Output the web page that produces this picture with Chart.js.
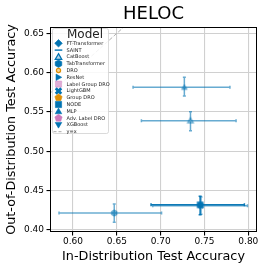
<!DOCTYPE html>
<html>
<head>
<meta charset="utf-8">
<script src="https://cdn.jsdelivr.net/npm/chart.js@4.4.0/dist/chart.umd.min.js"></script>
<style>
  html, body { margin: 0; padding: 0; background: #fff; }
</style>
</head>
<body>
<canvas id="chart" width="266" height="270"></canvas>
<script>
// Data
const legendModels = ["FT-Transformer", "SAINT", "CatBoost", "TabTransformer", "DRO", "ResNet",
  "Label Group DRO", "LightGBM", "Group DRO", "NODE", "MLP", "Adv. Label DRO", "XGBoost"];

const models  = ["TabTransformer", "CatBoost", "MLP", "LightGBM", "NODE"];
const idAcc   = [0.647, 0.734, 0.727, 0.746, 0.745];
const idLow   = [0.584, 0.678, 0.6685, 0.691, 0.689];
const idHigh  = [0.701, 0.786, 0.779, 0.799, 0.7955];
const oodAcc  = [0.4216, 0.539, 0.5814, 0.431, 0.432];
const oodLow  = [0.4098, 0.5262, 0.5703, 0.420, 0.4195];
const oodHigh = [0.433, 0.5504, 0.594, 0.442, 0.443];

const xTicks = [0.60, 0.65, 0.70, 0.75, 0.80];
const yTicks = [0.40, 0.45, 0.50, 0.55, 0.60, 0.65];
const diagonal = [0.3, 0.9];

// Styles
const BLUE = "1,115,178", ORANGE = "222,143,5", PINK = "204,120,188";
const markerOf = {
  "FT-Transformer": "diamond", "SAINT": "hline", "CatBoost": "triOpen", "TabTransformer": "hexagon",
  "DRO": "ring", "ResNet": "triRight", "Label Group DRO": "square", "LightGBM": "xfill",
  "Group DRO": "pentagon", "NODE": "square", "MLP": "triangle", "Adv. Label DRO": "pentagon",
  "XGBoost": "triDown"
};
const colorOf = name => {
  if (name === "DRO" || name === "Group DRO") return ORANGE;
  if (name === "Label Group DRO" || name === "Adv. Label DRO") return PINK;
  return BLUE;
};
const alphaOf = { "TabTransformer": 0.58, "CatBoost": 0.6, "MLP": 0.6, "LightGBM": 0.6, "NODE": 0.95 };

function poly(ctx, x, y, r, n, start) {
  for (let i = 0; i < n; i++) {
    const a = start + i * 2 * Math.PI / n;
    const px = x + r * Math.cos(a), py = y + r * Math.sin(a);
    if (i === 0) ctx.moveTo(px, py); else ctx.lineTo(px, py);
  }
  ctx.closePath();
}

function drawMarker(ctx, kind, x, y, r, rgb, alpha) {
  const col = `rgba(${rgb},${alpha})`;
  ctx.save();
  ctx.fillStyle = col;
  ctx.strokeStyle = col;
  ctx.lineWidth = 0.6;
  ctx.beginPath();
  if (kind === "hline") {
    ctx.lineWidth = 1.4;
    ctx.moveTo(x - r, y); ctx.lineTo(x + r, y);
    ctx.stroke(); ctx.restore(); return;
  }
  if (kind === "xfill") {
    ctx.lineWidth = r * 0.75;
    const d = r * 0.72;
    ctx.moveTo(x - d, y - d); ctx.lineTo(x + d, y + d);
    ctx.moveTo(x + d, y - d); ctx.lineTo(x - d, y + d);
    ctx.stroke(); ctx.restore(); return;
  }
  if (kind === "ring") {
    ctx.arc(x, y, r * 0.55, 0, 2 * Math.PI);
    ctx.fillStyle = `rgba(${rgb},${alpha * 0.4})`;
    ctx.fill();
    ctx.lineWidth = 1.2; ctx.stroke(); ctx.restore(); return;
  }
  if (kind === "triOpen") {
    poly(ctx, x, y + r * 0.15, r, 3, -Math.PI / 2);
    ctx.fillStyle = `rgba(${rgb},${alpha * 0.3})`;
    ctx.fill();
    ctx.lineWidth = 1.2; ctx.stroke(); ctx.restore(); return;
  }
  if (kind === "diamond") poly(ctx, x, y, r, 4, -Math.PI / 2);
  else if (kind === "square") ctx.rect(x - r * 0.82, y - r * 0.82, r * 1.64, r * 1.64);
  else if (kind === "triangle") poly(ctx, x, y + r * 0.15, r, 3, -Math.PI / 2);
  else if (kind === "triRight") poly(ctx, x - r * 0.15, y, r, 3, 0);
  else if (kind === "triDown") poly(ctx, x, y - r * 0.15, r, 3, Math.PI / 2);
  else if (kind === "hexagon") poly(ctx, x, y, r, 6, -Math.PI / 2);
  else if (kind === "pentagon") poly(ctx, x, y, r, 5, -Math.PI / 2);
  ctx.fill();
  ctx.stroke();
  ctx.restore();
}

function markerImage(kind, rgb, alpha, r) {
  const c = document.createElement("canvas");
  const s = Math.ceil(2 * r + 3);
  c.width = s; c.height = s;
  drawMarker(c.getContext("2d"), kind, s / 2, s / 2, r, rgb, alpha);
  return c;
}

// Error bars drawn from the scales
const errorBars = {
  id: "errorBars",
  beforeDatasetsDraw(chart) {
    const { ctx, chartArea, scales: { x, y } } = chart;
    ctx.save();
    ctx.beginPath();
    ctx.rect(chartArea.left, chartArea.top, chartArea.right - chartArea.left, chartArea.bottom - chartArea.top);
    ctx.clip();
    models.forEach((m, i) => {
      const cx = x.getPixelForValue(idAcc[i]), cy = y.getPixelForValue(oodAcc[i]);
      const x0 = x.getPixelForValue(idLow[i]), x1 = x.getPixelForValue(idHigh[i]);
      const y0 = y.getPixelForValue(oodLow[i]), y1 = y.getPixelForValue(oodHigh[i]);
      const cap = 1.5;
      ctx.strokeStyle = `rgba(${colorOf(m)},${alphaOf[m]})`;
      ctx.lineWidth = 1.5;
      ctx.beginPath();
      ctx.moveTo(x0, cy); ctx.lineTo(x1, cy);
      ctx.moveTo(cx, y0); ctx.lineTo(cx, y1);
      ctx.moveTo(x0, cy - cap); ctx.lineTo(x0, cy + cap);
      ctx.moveTo(x1, cy - cap); ctx.lineTo(x1, cy + cap);
      ctx.moveTo(cx - cap, y0); ctx.lineTo(cx + cap, y0);
      ctx.moveTo(cx - cap, y1); ctx.lineTo(cx + cap, y1);
      ctx.stroke();
    });
    ctx.restore();
  }
};

// Frame, title and legend
const decorations = {
  id: "decorations",
  afterDatasetsDraw(chart) {
    const { ctx, chartArea: a } = chart;
    ctx.save();
    ctx.strokeStyle = "#000";
    ctx.lineWidth = 1;
    ctx.strokeRect(Math.round(a.left) + 0.5, Math.round(a.top) + 0.5,
      Math.round(a.right - a.left) - 1, Math.round(a.bottom - a.top) - 1);
    ctx.restore();
  },
  afterDraw(chart) {
    const { ctx, chartArea: a } = chart;
    ctx.save();
    ctx.fillStyle = "#000";
    ctx.font = "18px 'DejaVu Sans'";
    ctx.textAlign = "center";
    ctx.textBaseline = "middle";
    ctx.fillText("HELOC", (a.left + a.right) / 2, 14);

    // legend box
    const bx = 52.5, by = 28.5, bw = 56, bh = 105;
    ctx.fillStyle = "rgba(255,255,255,0.85)";
    ctx.strokeStyle = "#d0d0d0";
    ctx.lineWidth = 0.8;
    ctx.beginPath();
    ctx.roundRect(bx, by, bw, bh, 2);
    ctx.fill();
    ctx.stroke();

    ctx.fillStyle = "#222";
    ctx.font = "12px 'DejaVu Sans'";
    ctx.textAlign = "center";
    ctx.fillText("Model", 85, 34.5);

    ctx.font = "5px 'DejaVu Sans'";
    ctx.textAlign = "left";
    const step = 6.8;
    legendModels.forEach((m, i) => {
      const yy = 43.3 + i * step;
      const alpha = m === "Label Group DRO" ? 0.6 : 1;
      drawMarker(ctx, markerOf[m], 58.5, yy, 3.8, colorOf(m), alpha);
      ctx.fillStyle = "#222";
      ctx.fillText(m, 66.5, yy + 0.3);
    });
    const ly = 43.3 + legendModels.length * step;
    ctx.strokeStyle = "#a8a8a8";
    ctx.lineWidth = 1;
    ctx.setLineDash([3, 2]);
    ctx.beginPath();
    ctx.moveTo(53.5, ly); ctx.lineTo(63.5, ly);
    ctx.stroke();
    ctx.setLineDash([]);
    ctx.fillStyle = "#222";
    ctx.fillText("y=x", 66.5, ly + 0.3);
    ctx.restore();
  }
};

const datasets = models.map((m, i) => ({
  label: m,
  data: [{ x: idAcc[i], y: oodAcc[i] }],
  pointStyle: markerImage(markerOf[m], colorOf(m), alphaOf[m], m === "NODE" ? 3.6 : 3.3),
  pointRadius: 3,
  order: 1
}));
datasets.push({
  type: "line",
  label: "y=x",
  data: diagonal.map(v => ({ x: v, y: v })),
  borderColor: "#b0b0b0",
  borderWidth: 1,
  borderDash: [4, 2],
  pointRadius: 0,
  order: 2
});

const font = { family: "'DejaVu Sans'" };

new Chart(document.getElementById("chart"), {
  type: "scatter",
  data: { datasets },
  options: {
    responsive: false,
    animation: false,
    devicePixelRatio: 1,
    layout: { padding: { top: 27, right: 9, left: 0, bottom: 0 } },
    plugins: { legend: { display: false }, tooltip: { enabled: false } },
    scales: {
      x: {
        type: "linear",
        min: 0.5737,
        max: 0.8099,
        afterBuildTicks: s => { s.ticks = xTicks.map(v => ({ value: v })); },
        afterFit: s => { s.height = 38; },
        ticks: { callback: v => v.toFixed(2), color: "#000", font: { ...font, size: 9 }, padding: 1, maxRotation: 0 },
        grid: { color: "#d0d0d0", lineWidth: 1.1, tickColor: "#000", tickLength: 3.5 },
        border: { display: false },
        title: { display: true, text: "In-Distribution Test Accuracy", color: "#000",
          font: { ...font, size: 12.8 }, padding: { top: 0, bottom: 5.5 } }
      },
      y: {
        type: "linear",
        min: 0.3975,
        max: 0.658,
        afterBuildTicks: s => { s.ticks = yTicks.map(v => ({ value: v })); },
        afterFit: s => { s.width = 50; },
        ticks: { callback: v => v.toFixed(2), color: "#000", font: { ...font, size: 9 }, padding: 2.5 },
        grid: { color: "#d0d0d0", lineWidth: 1.1, tickColor: "#000", tickLength: 3.5 },
        border: { display: false },
        title: { display: true, text: "Out-of-Distribution Test Accuracy", color: "#000",
          font: { ...font, size: 12.8 }, padding: { top: 3.5, bottom: 0 } }
      }
    }
  },
  plugins: [errorBars, decorations]
});
</script>
</body>
</html>
